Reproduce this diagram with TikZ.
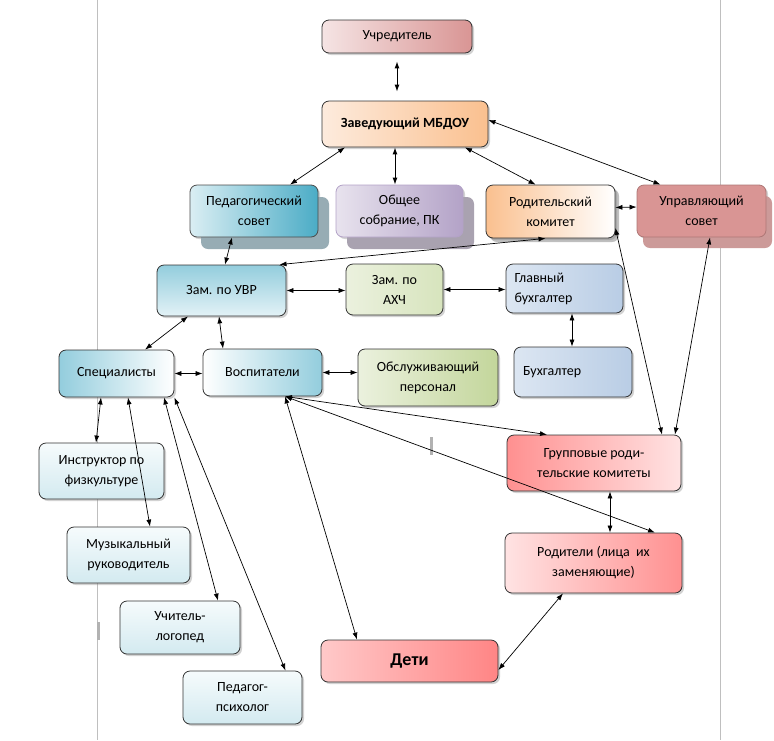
\documentclass[tikz,border=0pt]{standalone}
\usepackage{fontspec}
\setmainfont{Carlito}
\usepackage{xcolor}
\usepackage{tikz}
\usetikzlibrary{arrows.meta, shadows}
\definecolor{rosedark}{HTML}{D99594}
\definecolor{roselight}{HTML}{F5E4E4}
\definecolor{peachdark}{HTML}{FAC08F}
\definecolor{peachlight}{HTML}{FDEBDD}
\definecolor{tealdark}{HTML}{4BACC6}
\definecolor{teallight}{HTML}{DAEEF3}
\definecolor{tealshade}{HTML}{97ACB4}
\definecolor{lilacdark}{HTML}{B3A2C7}
\definecolor{lilaclight}{HTML}{E8E3EE}
\definecolor{lilacshade}{HTML}{A9A2B0}
\definecolor{roseshade}{HTML}{CC9A99}
\definecolor{skydark}{HTML}{93CDDD}
\definecolor{skylight}{HTML}{E3F2F6}
\definecolor{olivelight}{HTML}{EBF1DE}
\definecolor{olivemid}{HTML}{D7E4BD}
\definecolor{olivedark}{HTML}{C3D69B}
\definecolor{steellight}{HTML}{DCE6F2}
\definecolor{steeldark}{HTML}{B9CDE5}
\definecolor{reddark}{HTML}{FF9090}
\definecolor{redlight}{HTML}{FFE3E3}
\definecolor{redkids}{HTML}{FF8585}
\definecolor{redkidslight}{HTML}{FFC9C9}
\definecolor{icelight}{HTML}{F6FBFC}
\definecolor{icedark}{HTML}{D3EAF0}
\tikzset{
  box/.style={draw=black!80, line width=0.8pt, rounded corners=7pt, align=center,
    inner sep=2pt, font=\fontsize{14}{20}\selectfont,
    drop shadow={shadow xshift=2pt, shadow yshift=-2pt, opacity=.35}},
  bigshadow/.style={drop shadow={shadow xshift=11pt, shadow yshift=-12pt,
    opacity=1, fill=#1}},
  arr/.style={{Latex[length=7pt,width=5pt]}-{Latex[length=7pt,width=5pt]}, line width=0.7pt},
  margin/.style={draw=black!25, line width=0.8pt}
}
\begin{document}
\begin{tikzpicture}[x=1pt, y=-1pt]
  \useasboundingbox[fill=white] (0,0) rectangle (774,740);
  % page margins
  \draw[margin] (97,0) -- (97,740);
  \draw[margin] (720,0) -- (720,740);
  \fill[black!30] (429.5,437) rectangle (432.5,455);
  \fill[black!30] (96.5,622) rectangle (99.5,640);

  % top
  \node[box, minimum width=150, minimum height=33, left color=roselight, right color=rosedark]
    (uch) at (397,36.5) {Учредитель};
  \node[box, minimum width=166, minimum height=46, left color=peachlight, right color=peachdark]
    (zav) at (405,124) {\textbf{Заведующий МБДОУ}};

  % councils
  \node[box, bigshadow=tealshade, draw=black!70, minimum width=128, minimum height=52,
        left color=teallight, right color=tealdark] (ped) at (254,211) {Педагогический\\совет};
  \node[box, bigshadow=lilacshade, draw=lilacdark, minimum width=127, minimum height=52,
        left color=lilaclight, right color=lilacdark] (obs) at (399.5,211) {Общее\\собрание, ПК};
  \node[box, minimum width=129, minimum height=53, left color=peachdark, right color=white,
        drop shadow={shadow xshift=4pt, shadow yshift=-4pt, opacity=.5}]
    (rod) at (550.5,211.5) {Родительский\\комитет};
  \node[box, draw=rosedark!80!black, minimum width=129, minimum height=52,
        drop shadow={shadow xshift=6pt, shadow yshift=-11pt, opacity=1, fill=roseshade},
        left color=rosedark, middle color=roselight, right color=rosedark]
    (upr) at (701.5,211) {Управляющий\\совет};

  % deputies
  \node[box, minimum width=129, minimum height=51, top color=skydark, bottom color=skylight]
    (uvr) at (221.5,290.5) {Зам. по УВР};
  \node[box, minimum width=97, minimum height=51, left color=olivelight, right color=olivemid]
    (ahc) at (394.5,289.5) {Зам. по\\АХЧ};
  \node[box, minimum width=117, minimum height=49, left color=steellight, right color=steeldark,
        align=left, text width=100] (glb) at (564.5,288.5) {Главный\\бухгалтер};
  \node[box, minimum width=118, minimum height=50, left color=steellight, right color=steeldark,
        align=left, text width=100] (buh) at (573,372) {Бухгалтер};

  % staff
  \node[box, minimum width=115, minimum height=47, left color=skydark, right color=white]
    (spc) at (116.5,373.5) {Специалисты};
  \node[box, minimum width=119, minimum height=47, left color=white, right color=skydark]
    (vos) at (262.5,372.5) {Воспитатели};
  \node[box, minimum width=140, minimum height=57, left color=olivelight, right color=olivedark]
    (obp) at (428,377.5) {Обслуживающий\\персонал};

  % parents and children
  \node[box, minimum width=174, minimum height=56, left color=reddark, right color=redlight]
    (grk) at (594,463) {Групповые роди-\\тельские комитеты};
  \node[box, minimum width=177, minimum height=60, left color=redlight, right color=reddark]
    (rdl) at (593.5,563) {Родители (лица~~их\\заменяющие)};
  \node[box, minimum width=177, minimum height=42, left color=redkidslight, right color=redkids,
        font=\fontsize{18}{22}\selectfont\bfseries] (det) at (409.5,661) {Дети};

  % specialists
  \node[box, minimum width=125, minimum height=56, top color=icelight, bottom color=icedark]
    (ins) at (101.5,471) {Инструктор по\\физкультуре};
  \node[box, minimum width=123, minimum height=56, top color=icelight, bottom color=icedark]
    (muz) at (128.5,555) {Музыкальный\\руководитель};
  \node[box, minimum width=120, minimum height=53, top color=icelight, bottom color=icedark]
    (lgp) at (180,627.5) {Учитель-\\логопед};
  \node[box, minimum width=119, minimum height=53, top color=icelight, bottom color=icedark]
    (psi) at (242.5,697.5) {Педагог-\\психолог};

  % connectors
  \draw[arr, line width=1pt] ([yshift=-8pt]uch.south) -- ([xshift=-8pt,yshift=9pt]zav.north);
  \draw[arr] ([xshift=-60pt]zav.south) -- ([xshift=36pt]ped.north);
  \draw[arr, line width=1pt] ([xshift=-10pt]zav.south) -- ([xshift=-4.5pt]obs.north);
  \draw[arr] ([xshift=60pt]zav.south) -- ([xshift=-15pt]rod.north);
  \draw[arr] ([yshift=4pt]zav.east) -- ([xshift=-41pt]upr.north);
  \draw[arr] ([yshift=4pt]rod.east) -- ([yshift=4pt]upr.west);
  \draw[arr] ([xshift=-22pt]ped.south) -- ([xshift=3.5pt]uvr.north);
  \draw[arr] ([xshift=58pt]uvr.north) -- ([xshift=-5pt]rod.south);
  \draw[arr] (uvr.east) -- (uvr.east -| ahc.west);
  \draw[arr] (ahc.east) -- (ahc.east -| glb.west);
  \draw[arr] ([xshift=7.5pt]glb.south) -- ([xshift=-1pt]buh.north);
  \draw[arr] ([xshift=-33.5pt]uvr.south) -- ([xshift=28.5pt]spc.north);
  \draw[arr] ([xshift=-2.5pt]uvr.south) -- ([xshift=-39.5pt]vos.north);
  \draw[arr] (spc.east) -- (spc.east -| vos.west);
  \draw[arr] (vos.east) -- (vos.east -| obp.west);
  \draw[arr] ([xshift=-15.5pt]spc.south) -- ([xshift=-5.5pt]ins.north);
  \draw[arr] ([xshift=11.5pt]spc.south) -- ([xshift=21.5pt]muz.north);
  \draw[arr] ([xshift=47.5pt]spc.south) -- ([xshift=38pt]lgp.north);
  \draw[arr] (spc.south east) -- ([xshift=43pt]psi.north);
  \draw[arr] ([xshift=22.5pt]vos.south) -- ([xshift=-47pt]grk.north);
  \draw[arr] ([xshift=22.5pt]vos.south) -- ([xshift=61.5pt]rdl.north);
  \draw[arr] ([xshift=22.5pt]vos.south) -- ([xshift=-52.5pt]det.north);
  \draw[arr] ([yshift=-16.5pt]rod.east) -- ([xshift=68pt]grk.north);
  \draw[arr] ([xshift=8.5pt]upr.south) -- ([xshift=81pt]grk.north);
  \draw[arr] ([xshift=16pt]grk.south) -- ([xshift=16.5pt]rdl.north);
  \draw[arr] ([xshift=-30.5pt]rdl.south) -- ([yshift=-9pt]det.east);
\end{tikzpicture}
\end{document}
